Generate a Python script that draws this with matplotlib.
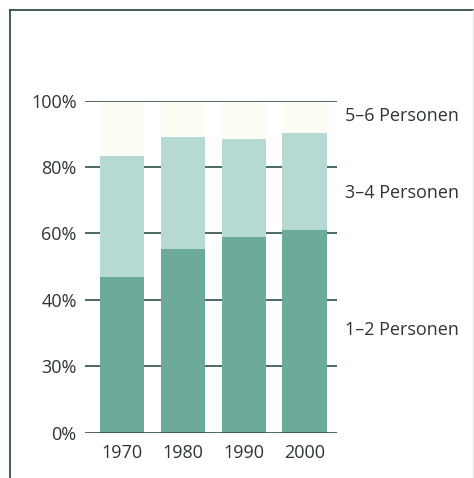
import matplotlib.pyplot as plt
from matplotlib.lines import Line2D
from matplotlib.transforms import blended_transform_factory


years = ["1970", "1980", "1990", "2000"]
# Anteil der Haushalte (Prozent, gestapelt)
pers_1_2 = [47.0, 55.3, 58.9, 61.1]
pers_3_4 = [36.3, 33.7, 29.5, 29.1]
pers_5_6 = [16.7, 11.0, 11.6, 9.8]

tick_pos = [0, 20, 40, 60, 80, 100]
tick_labels = ["0%", "30%", "40%", "60%", "80%", "100%"]
series_labels = ["1–2 Personen", "3–4 Personen", "5–6 Personen"]

DARK = "#6caa9c"
MID = "#b6dad3"
LIGHT = "#fdfdf6"
LINE = "#2f4f49"
TEXT = "#2d3634"


def main():
  plt.rcParams['font.family'] = ['Open Sans', 'DejaVu Sans']

  fig = plt.figure(figsize=(4.74, 4.78), dpi=100)
  ax = fig.add_axes([85 / 474, 1 - 432.7 / 478, 252 / 474, 332 / 478])

  x = list(range(len(years)))
  w = 0.73
  bottom2 = pers_1_2
  bottom3 = [a + b for a, b in zip(pers_1_2, pers_3_4)]
  ax.bar(x, pers_1_2, width=w, color=DARK, zorder=2)
  ax.bar(x, pers_3_4, width=w, bottom=bottom2, color=MID, zorder=2)
  ax.bar(x, pers_5_6, width=w, bottom=bottom3, color=LIGHT, zorder=2)

  for t in tick_pos:
    z = 3 if t in (0, 100) else 1
    ax.axhline(t, color=LINE, lw=1.2, zorder=z)

  ax.set_xlim(-0.612, 3.535)
  ax.set_ylim(0, 100)
  ax.set_xticks(x)
  ax.set_xticklabels(years)
  ax.set_yticks(tick_pos)
  ax.set_yticklabels(tick_labels)
  ax.tick_params(axis='both', length=0, labelsize=13, colors=TEXT)
  ax.tick_params(axis='y', pad=6)
  ax.tick_params(axis='x', pad=8)
  for s in ax.spines.values():
    s.set_visible(False)

  trans = blended_transform_factory(fig.transFigure, ax.transData)
  for label, ypos in zip(series_labels, [30.9, 72.2, 95.4]):
    ax.text(345 / 474, ypos, label, transform=trans, fontsize=13,
            color=TEXT, va='center', ha='left')

  # Rahmen
  fig.add_artist(Line2D([10 / 474, 10 / 474], [0, 1 - 9.5 / 478],
                        transform=fig.transFigure, color=LINE, lw=1.3))
  fig.add_artist(Line2D([10 / 474, 1], [1 - 9.5 / 478, 1 - 9.5 / 478],
                        transform=fig.transFigure, color=LINE, lw=1.3))
  fig.add_artist(Line2D([472.5 / 474, 472.5 / 474], [0, 1 - 9.5 / 478],
                        transform=fig.transFigure, color="#e6e6e6", lw=1))

  fig.savefig("out.png", dpi=100)


if __name__ == "__main__":
  main()
